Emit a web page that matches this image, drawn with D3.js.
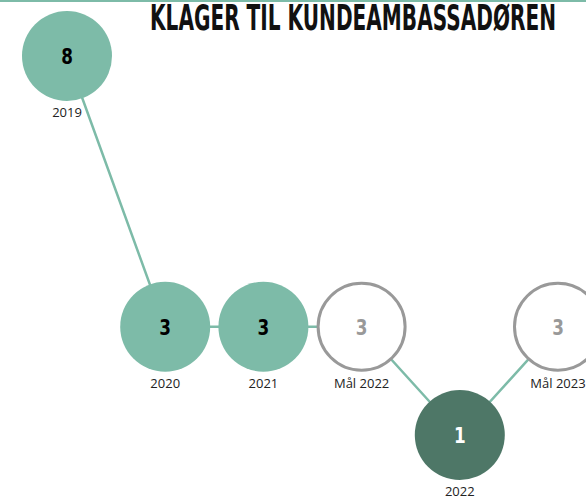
<!DOCTYPE html>
<html>
<head>
<meta charset="utf-8">
<script src="https://cdn.jsdelivr.net/npm/d3@7"></script>
<style>
  body { margin: 0; background: #fff; }
</style>
</head>
<body>
<div id="chart"></div>
<script>
const labels = ["2019", "2020", "2021", "Mål 2022", "2022", "Mål 2023"];
const values = [8, 3, 3, 3, 1, 3];
const kinds = ["actual", "actual", "actual", "goal", "current", "goal"];
const title = "KLAGER TIL KUNDEAMBASSADØREN";

const data = labels.map((d, i) => ({ label: d, value: values[i], kind: kinds[i] }));

const width = 586, height = 496;
const r = 45;

const svg = d3.select("#chart")
    .append("svg")
    .attr("width", width)
    .attr("height", height);

// top border
svg.append("rect")
    .attr("x", 0).attr("y", 0)
    .attr("width", width).attr("height", 2)
    .attr("fill", "#7dbba8");

// title
svg.append("text")
    .attr("x", 150)
    .attr("y", 30)
    .attr("textLength", 406)
    .attr("lengthAdjust", "spacingAndGlyphs")
    .style("font-family", "'DejaVu Sans Condensed', 'DejaVu Sans'")
    .style("font-stretch", "condensed")
    .style("font-weight", "bold")
    .style("font-size", "36px")
    .attr("fill", "#111")
    .text(title);

const xScale = d3.scalePoint()
    .domain(labels)
    .range([67, 558]);

const yScale = d3.scaleLinear()
    .domain([1, 8])
    .range([435, 56]);

// connecting line
svg.append("path")
    .datum(data)
    .attr("fill", "none")
    .attr("stroke", "#7dbba8")
    .attr("stroke-width", 2.5)
    .attr("d", d3.line().x(d => xScale(d.label)).y(d => yScale(d.value)));

const fills = { actual: "#7dbba8", goal: "#fff", current: "#4e7767" };
const textFill = { actual: "#000", goal: "#999", current: "#fff" };

const g = svg.selectAll("g.node")
    .data(data)
    .enter()
    .append("g")
    .attr("class", "node")
    .attr("transform", d => `translate(${xScale(d.label)},${yScale(d.value)})`);

g.append("circle")
    .attr("r", d => d.kind === "goal" ? r - 1.5 : r)
    .attr("fill", d => fills[d.kind])
    .attr("stroke", d => d.kind === "goal" ? "#999" : "none")
    .attr("stroke-width", 3);

g.append("text")
    .attr("y", 8)
    .attr("text-anchor", "middle")
    .attr("transform", "scale(0.85,1)")
    .style("font-family", "'DejaVu Sans Condensed', 'DejaVu Sans'")
    .style("font-stretch", "condensed")
    .style("font-weight", "bold")
    .style("font-size", "22px")
    .attr("fill", d => textFill[d.kind])
    .text(d => d.value);

g.append("text")
    .attr("y", 61)
    .attr("text-anchor", "middle")
    .style("font-family", "'Open Sans'")
    .style("font-size", "13px")
    .attr("fill", "#222")
    .text(d => d.label);
</script>
</body>
</html>
